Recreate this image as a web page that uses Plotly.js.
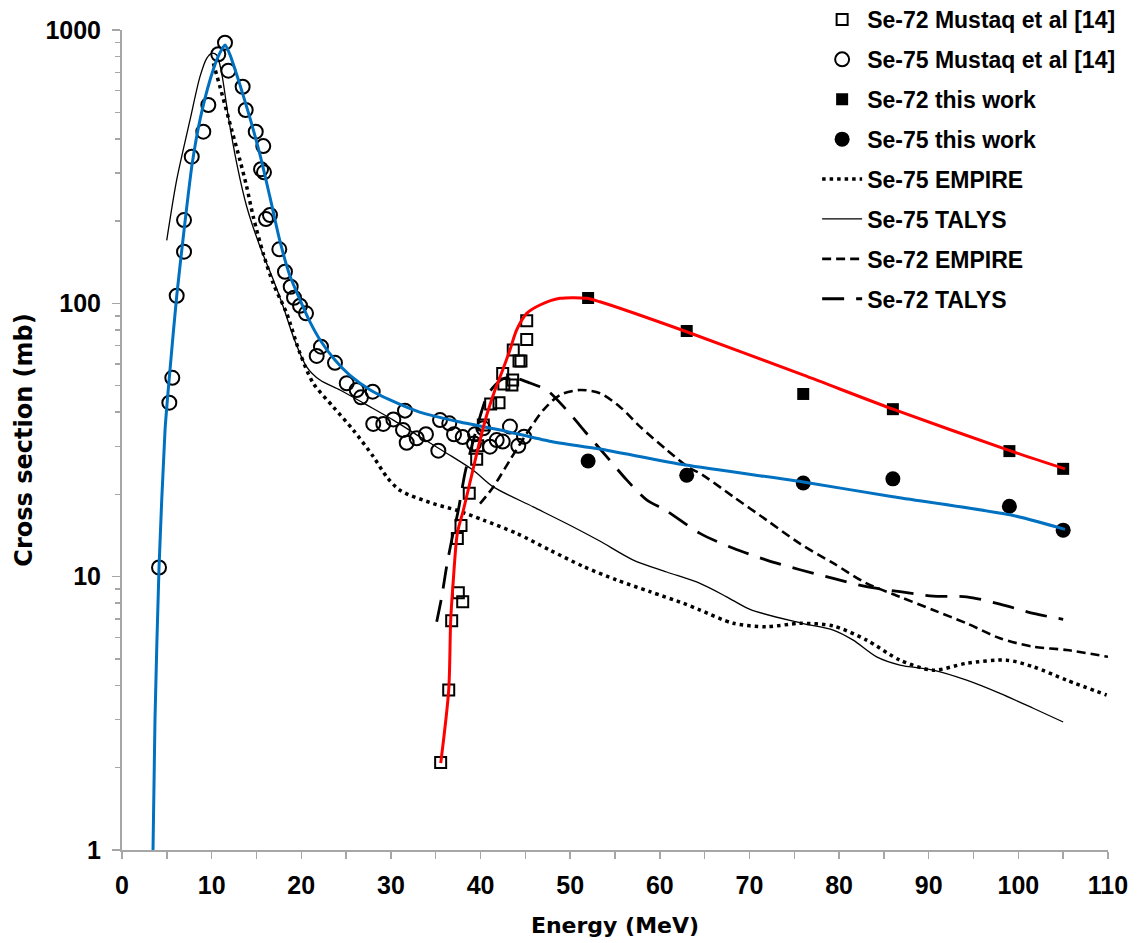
<!DOCTYPE html>
<html>
<head>
<meta charset="utf-8">
<script src="https://cdn.plot.ly/plotly-3.0.1.min.js"></script>
<style>html,body{margin:0;padding:0;background:#fff;}#chart{width:1138px;height:943px;}</style>
</head>
<body>
<div id="chart"></div>
<script>
// ---- Data ----
// Se-72 Mustaq et al [14] (open squares)
const se72MustaqE = [35.55, 36.45, 36.78, 37.52, 38.01, 37.41, 37.82, 38.74, 39.57, 39.68, 40.31, 41.13, 42.06, 42.47, 42.6, 43.58, 43.5, 43.65, 44.29, 44.51, 45.15, 45.15];
const se72MustaqS = [2.09, 3.85, 6.9, 8.73, 8.09, 13.8, 15.4, 20.2, 26.9, 30.1, 35.9, 42.8, 43.3, 55.4, 50.7, 52.4, 50.3, 67.5, 61.5, 61.5, 73.8, 86.4];

// Se-75 Mustaq et al [14] (open circles)
const se75MustaqE = [4.13, 5.28, 5.61, 6.10, 6.92, 6.92, 7.78, 9.07, 9.63, 10.74, 11.49, 11.86, 13.46, 13.80, 14.92, 15.76, 15.51, 15.84, 16.51, 16.06, 17.55, 18.18, 18.82, 19.19, 19.86, 20.53, 22.2, 21.72, 23.76, 25.07, 26.18, 26.66, 27.97, 28.03, 29.15, 30.27, 31.57, 31.35, 31.76, 32.88, 33.91, 35.29, 35.48, 36.51, 37.04, 38.01, 39.27, 39.38, 40.31, 41.05, 41.8, 42.47, 43.28, 44.21, 44.85];
const se75MustaqS = [10.8, 43.3, 53.4, 106.6, 154.5, 201.7, 344, 424.6, 531.6, 815, 899, 710, 620, 509.6, 424.6, 376, 309.4, 301.5, 210.5, 203.4, 157.6, 130.5, 115, 104.8, 98, 91.9, 69.4, 64.2, 60.6, 51, 48.2, 45.3, 47.5, 36.2, 36.2, 37.6, 40.5, 34.4, 30.9, 32.1, 33.2, 28.9, 37.4, 36.4, 33.2, 32.4, 30.7, 33.2, 34.9, 29.9, 31.6, 31.2, 35.4, 30.1, 32.5];

// This work
const thisWorkE = [52, 63, 76, 86, 99, 105];
const se72ThisWorkS = [104.6, 79.2, 46.6, 41.0, 28.8, 24.8];
const se75ThisWorkS = [26.5, 23.5, 22.0, 22.8, 18.1, 14.8];

// Se-75 EMPIRE (dotted)
const se75EmpireE = [10.19, 10.93, 12.24, 13.16, 13.91, 14.65, 15.76, 16.88, 18.37, 19.86, 21.34, 23.57, 25.8, 28.03, 29.53, 31.01, 34.73, 37.34, 40.31, 44.03, 47.75, 51.46, 55.19, 58.9, 62.62, 64.5, 68.2, 71.9, 75.64, 79.35, 83.07, 86.79, 90.5, 94.23, 98.69, 101.66, 105.4, 109.85];
const se75EmpireS = [755, 620, 431, 334, 267, 207, 152, 118, 91.9, 65.6, 51, 41.8, 34.4, 27.5, 23.2, 20.7, 18.5, 17.5, 16.1, 14.4, 12.5, 10.9, 9.72, 8.81, 7.99, 7.55, 6.75, 6.56, 6.75, 6.60, 5.86, 4.95, 4.55, 4.82, 4.95, 4.68, 4.18, 3.69];

// Se-75 TALYS (thin solid)
const se75TalysE = [4.99, 6.10, 7.59, 8.70, 9.45, 10.0, 10.56, 11.12, 11.86, 12.8, 13.91, 15.4, 16.88, 18.0, 19.11, 20.6, 22.09, 24.32, 27.3, 30.27, 33.24, 36.22, 39.19, 41.42, 45.88, 50.35, 53.3, 57.04, 60.77, 64.48, 67.46, 70.06, 75.64, 79.35, 81.58, 84.19, 86.79, 90.5, 94.23, 97.95, 101.66, 105.0];
const se75TalysS = [170, 283, 469, 675, 788, 822, 810, 694, 482, 325, 226, 161, 122, 97, 75.5, 58.6, 52.4, 48.2, 42.5, 37.4, 32.5, 28.3, 24.5, 21.3, 18.0, 15.2, 13.5, 11.5, 10.4, 9.45, 8.44, 7.59, 6.78, 6.38, 5.86, 5.09, 4.75, 4.55, 4.18, 3.74, 3.30, 2.94];

// Se-72 EMPIRE (short dash)
const se72EmpireE = [39.94, 41.42, 43.28, 45.15, 47.0, 48.86, 51.09, 53.32, 55.56, 57.79, 60.77, 63.36, 64.48, 68.2, 71.92, 75.64, 79.35, 83.07, 86.79, 90.5, 94.23, 97.95, 101.66, 105.4, 110.0];
const se72EmpireS = [18.5, 21.3, 26.7, 33.4, 40.7, 46.2, 48.2, 46.9, 41.8, 35.4, 29.1, 24.9, 23.9, 19.6, 16.1, 13.2, 11.2, 9.45, 8.44, 7.55, 6.75, 5.95, 5.54, 5.39, 5.09];

// Se-72 TALYS (long dash)
const se72TalysE = [35.11, 35.67, 36.22, 36.78, 37.52, 38.26, 39.01, 39.94, 40.69, 41.61, 42.73, 43.84, 45.52, 47.38, 49.61, 51.84, 54.07, 56.3, 58.53, 60.77, 64.48, 68.2, 71.92, 75.64, 79.35, 83.07, 86.79, 90.5, 94.23, 97.95, 101.66, 105.0];
const se72TalysS = [6.84, 8.44, 10.9, 13.6, 17.5, 23.9, 29.9, 38.5, 45.5, 50.2, 53.3, 53.3, 51.1, 48.2, 40.7, 33.4, 27.5, 22.6, 19.1, 17.4, 14.4, 12.7, 11.5, 10.6, 9.86, 9.19, 8.81, 8.49, 8.44, 7.94, 7.34, 6.98];

// Se-75 fitted curve (blue)
const se75FitE = [3.46, 3.68, 4.13, 4.8, 5.35, 6.1, 6.92, 7.81, 8.7, 9.82, 10.7, 11.5, 12.05, 13.16, 14.28, 15.4, 16.5, 17.6, 18.7, 19.86, 20.97, 22.1, 23.76, 25.4, 27.7, 29.9, 33.2, 37.7, 42.2, 47.7, 53.3, 62.9, 76.0, 86.0, 99.2, 105.2];
const se75FitS = [1.0, 3.0, 10.8, 34.4, 57, 106, 185, 321, 469, 656, 796, 882, 811, 630, 476, 349, 245, 170, 127, 103, 85.5, 73.4, 62, 54.6, 48.2, 44.3, 40, 36.8, 34.4, 31.3, 29.3, 25.6, 22.2, 19.6, 16.8, 14.9];

// Se-72 fitted curve (red)
const se72FitE = [35.56, 36.45, 36.67, 36.96, 37.41, 38.08, 39.01, 39.94, 40.75, 41.61, 42.47, 43.28, 44.03, 45.15, 46.63, 48.86, 51.84, 53.32, 62.99, 75.97, 86.01, 99.2, 105.2];
const se72FitS = [2.08, 3.85, 6.94, 9.7, 14.4, 17.5, 23.5, 31.6, 39.6, 48.2, 57, 67.5, 79.9, 91.9, 98.6, 104.3, 104.3, 101.3, 78.7, 54.7, 41.0, 28.8, 24.8];

// Axis ticks
const xTickVals = [0, 10, 20, 30, 40, 50, 60, 70, 80, 90, 100, 110];
const yTickVals = [1, 10, 100, 1000];
const yTickText = ['1', '10', '100', '1000'];
const yMinorVals = [2,3,4,5,6,7,8,9,20,30,40,50,60,70,80,90,200,300,400,500,600,700,800,900];

// ---- Styling ----
const FONT = 'Liberation Sans, Arial, sans-serif';
const TFONT = 'DejaVu Sans, Liberation Sans, sans-serif';
const AXC = '#a6a6a6';

const traces = [
  {x: se72MustaqE, y: se72MustaqS, mode: 'markers', name: 'Se-72 Mustaq et al [14]', legendgroup: 'g1',
   marker: {symbol: 'square-open', size: 11, color: '#000', line: {width: 2, color: '#000'}}},
  {x: se75MustaqE, y: se75MustaqS, mode: 'markers', name: 'Se-75 Mustaq et al [14]', legendgroup: 'g2',
   marker: {symbol: 'circle-open', size: 14, color: '#000', line: {width: 2, color: '#000'}}},
  {x: thisWorkE, y: se72ThisWorkS, mode: 'markers', name: 'Se-72 this work', legendgroup: 'g3',
   marker: {symbol: 'square', size: 12, color: '#000'}},
  {x: thisWorkE, y: se75ThisWorkS, mode: 'markers', name: 'Se-75 this work', legendgroup: 'g4',
   marker: {symbol: 'circle', size: 15, color: '#000'}},
  {x: se75EmpireE, y: se75EmpireS, mode: 'lines', name: 'Se-75 EMPIRE', legendgroup: 'g5',
   line: {color: '#000', width: 3.5, dash: '3.5px,4px', shape: 'spline', smoothing: 0.8}},
  {x: se75TalysE, y: se75TalysS, mode: 'lines', name: 'Se-75 TALYS', legendgroup: 'g6',
   line: {color: '#000', width: 1.3, shape: 'spline', smoothing: 0.8}},
  {x: se72EmpireE, y: se72EmpireS, mode: 'lines', name: 'Se-72 EMPIRE', legendgroup: 'g7',
   line: {color: '#000', width: 2.6, dash: '9px,5px', shape: 'spline', smoothing: 0.8}},
  {x: se72TalysE, y: se72TalysS, mode: 'lines', name: 'Se-72 TALYS', legendgroup: 'g8',
   line: {color: '#000', width: 2.8, dash: '22px,12px', shape: 'spline', smoothing: 0.8}},
  {x: se75FitE, y: se75FitS, mode: 'lines', showlegend: false, hoverinfo: 'skip',
   line: {color: '#0070C0', width: 3, shape: 'spline', smoothing: 0.6}},
  {x: se72FitE, y: se72FitS, mode: 'lines', showlegend: false, hoverinfo: 'skip',
   line: {color: '#FF0000', width: 3, shape: 'spline', smoothing: 0.8}}
];

const layout = {
  width: 1138, height: 943,
  paper_bgcolor: '#ffffff', plot_bgcolor: '#ffffff',
  margin: {l: 122, r: 30, t: 30, b: 93, pad: 0, autoexpand: false},
  font: {family: FONT, color: '#000', size: 22, weight: 'bold'},
  showlegend: true,
  legend: {
    x: 0.705, y: 1.039, xanchor: 'left', yanchor: 'top',
    bgcolor: 'rgba(255,255,255,0)', borderwidth: 0,
    font: {family: FONT, size: 23, color: '#000', weight: 'bold'},
    traceorder: 'grouped', tracegroupgap: 7, itemwidth: 40
  },
  xaxis: {
    range: [0, 110], tickmode: 'array', tickvals: xTickVals,
    ticks: 'outside', ticklen: 7, tickwidth: 1.5, tickcolor: AXC,
    showline: true, linecolor: AXC, linewidth: 2, mirror: false,
    showgrid: false, zeroline: false,
    tickfont: {family: FONT, size: 25, color: '#000', weight: 'bold'},
    ticklabelstandoff: 5,
    minor: {dtick: 5, ticks: 'outside', ticklen: 7, tickwidth: 1.5, tickcolor: AXC, showgrid: false},
    title: {text: 'Energy (MeV)', font: {family: TFONT, size: 22, color: '#000', weight: 'bold'}, standoff: 20}
  },
  yaxis: {
    type: 'log', range: [0, 3], tickmode: 'array', tickvals: yTickVals, ticktext: yTickText,
    ticks: 'outside', ticklen: 8, tickwidth: 1.5, tickcolor: AXC,
    showline: true, linecolor: AXC, linewidth: 2,
    showgrid: false, zeroline: false,
    tickfont: {family: FONT, size: 25, color: '#000', weight: 'bold'},
    ticklabelstandoff: 6,
    minor: {tickmode: 'array', tickvals: yMinorVals, ticks: 'outside', ticklen: 5, tickwidth: 1.5, tickcolor: AXC, showgrid: false},
    title: {text: 'Cross section (mb)', font: {family: TFONT, size: 24, color: '#000', weight: 'bold'}, standoff: 6}
  }
};

Plotly.newPlot('chart', traces, layout, {displayModeBar: false, staticPlot: true});
</script>
</body>
</html>
